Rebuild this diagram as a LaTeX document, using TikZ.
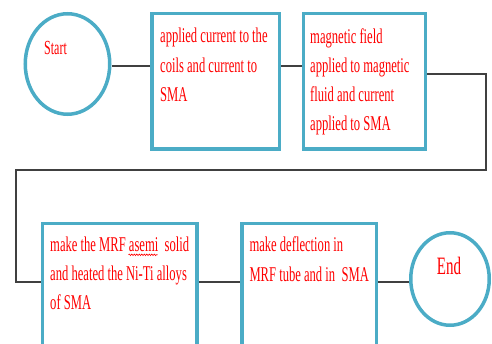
\documentclass[tikz,border=0pt]{standalone}
\usepackage{fontspec}
\setmainfont[FakeStretch=0.6]{Liberation Serif}
\usetikzlibrary{shapes.geometric,decorations.pathmorphing}
\definecolor{frame}{HTML}{4BACC6}
\definecolor{wire}{HTML}{404040}
\definecolor{ink}{HTML}{FF0000}
% left-aligned lines with a fixed baseline distance; the box's baseline is the first line's
\newcommand\stacklines[2][29.5pt]{\vtop{\baselineskip=#1\lineskiplimit=-100pt\lineskip=0pt\let\\\cr\halign{##\hfil\cr#2\crcr}}}
\begin{document}
\begin{tikzpicture}[x=1pt,y=-1pt,
  boxnode/.style={draw=frame,fill=white,line width=3.5pt,rectangle,inner sep=0pt},
  oval/.style={draw=frame,fill=white,line width=3.5pt,ellipse,inner sep=0pt},
  txt/.style={text=ink,inner sep=0pt,anchor=base west,font=\fontsize{21}{29.5}\selectfont},
  wire/.style={draw=wire,line width=1.5pt}]
\useasboundingbox (0,0) rectangle (492,344);
\clip (0,0) rectangle (492,344);

% bend points of the connectors
\coordinate (row1) at (0,66);
\coordinate (row2) at (0,282);
\coordinate (turnR) at (486,170);
\coordinate (turnL) at (16,170);

% first row
\node[oval,minimum width=84.5pt,minimum height=100.5pt] (start) at (67.5,64) {};
\node[txt,font=\fontsize{20}{24}\selectfont] (starttext) at (44,55) {Start};

\node[boxnode,minimum width=127.5pt,minimum height=135.5pt] (b1) at (215.5,81.5) {};
\node[txt] (t1) at (160,42.7) {\stacklines{applied current to the\\coils and current to\\SMA}};

\node[boxnode,minimum width=122pt,minimum height=135.5pt] (b2) at (364.5,81.5) {};
\node[txt] (t2) at (310,43.3) {\stacklines[29.2pt]{magnetic field\\applied to magnetic\\fluid and current\\applied to SMA}};

% second row
\node[boxnode,anchor=north west,minimum width=154.5pt,minimum height=140pt] (b3) at (40.75,221.75) {};
\node[txt] (t3) at (50,251.7) {\stacklines[29pt]{make the MRF asemi~~solid\\and heated the Ni-Ti alloys\\of SMA}};
\draw[ink,line width=0.6pt,decorate,decoration={snake,amplitude=0.8pt,segment length=2.5pt}]
  (128.5,254.8) -- (157.5,254.8);

\node[boxnode,anchor=north west,minimum width=134.5pt,minimum height=140pt] (b4) at (240,221.75) {};
\node[txt] (t4) at (249.3,251.7) {\stacklines[30pt]{make deflection in\\MRF tube and in~~SMA}};

\node[oval,minimum width=78.5pt,minimum height=92.5pt] (end) at (450,279) {};
\node[txt,font=\fontsize{25}{30}\selectfont] (endtext) at (436.7,275) {End};

% connectors
\draw[wire] (start.east |- row1) -- (b1.west |- row1);
\draw[wire] (b1.east |- row1) -- (b2.west |- row1);
\draw[wire] ([yshift=7.5pt]b2.east) -| (turnR) -- (turnL) |- (b3.west |- row2);
\draw[wire] (b3.east |- row2) -- (b4.west |- row2);
\draw[wire] (b4.east |- row2) -- (end.west |- row2);
\end{tikzpicture}
\end{document}
